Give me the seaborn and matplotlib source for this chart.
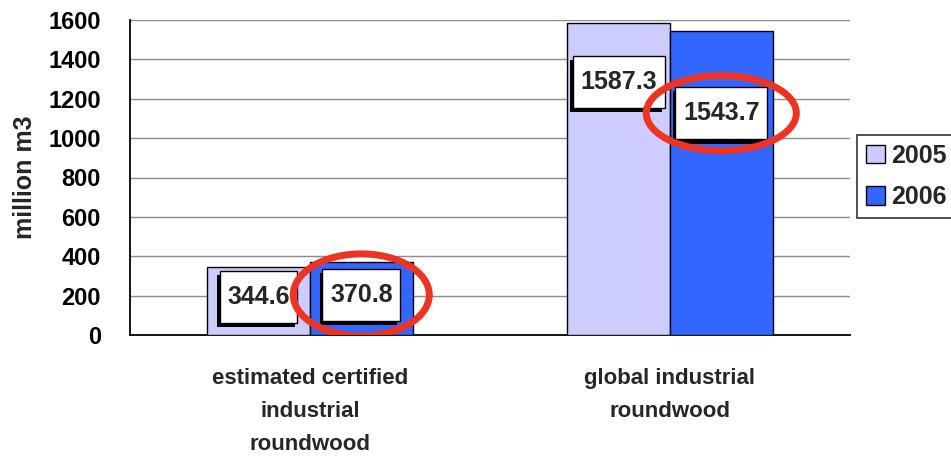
import matplotlib
matplotlib.use("Agg")
import matplotlib.pyplot as plt
import matplotlib.patheffects as pe
from matplotlib.patches import Ellipse
import seaborn as sns
import pandas as pd

categories = ["estimated certified\nindustrial\nroundwood", "global industrial\nroundwood"]
years = ["2005", "2006"]
values_2005 = [344.6, 1587.3]
values_2006 = [370.8, 1543.7]
label_texts_2005 = ["344.6", "1587.3"]
label_texts_2006 = ["370.8", "1543.7"]
y_ticks = [0, 200, 400, 600, 800, 1000, 1200, 1400, 1600]

df = pd.DataFrame({
    "category": categories * 2,
    "year": [years[0]] * 2 + [years[1]] * 2,
    "value": values_2005 + values_2006,
})

sns.set_style("white")
plt.rcParams["font.family"] = ["Liberation Sans", "DejaVu Sans"]
plt.rcParams["font.weight"] = "bold"

fig = plt.figure(figsize=(9.51, 4.57), dpi=100)
ax = fig.add_axes([130 / 951, 1 - 335 / 457, 720 / 951, 315 / 457])

palette = {"2005": "#ccccff", "2006": "#3366ff"}
bar_w = 0.57
sns.barplot(data=df, x="category", y="value", hue="year", palette=palette,
            width=bar_w, edgecolor="black", linewidth=1, saturation=1, ax=ax,
            zorder=3)

ax.set_ylim(0, 1600)
ax.set_xlim(-0.5, 1.5)
ax.set_yticks(y_ticks)
ax.yaxis.grid(True, color="#8c8c8c", linewidth=1, zorder=0)
ax.set_axisbelow(True)
for s in ["top", "right"]:
    ax.spines[s].set_visible(False)
for s in ["left", "bottom"]:
    ax.spines[s].set_color("black")
    ax.spines[s].set_linewidth(1.3)

ax.tick_params(axis="y", direction="inout", length=12, width=1.2, pad=15,
               labelsize=17, colors="black")
ax.set_xticks([0, 1])
ax.set_xticklabels(categories, fontsize=16, fontweight="bold", linespacing=1.75)
ax.tick_params(axis="x", length=0, pad=24)
ax.set_xticks([-0.5, 0.5, 1.5], minor=True)
ax.tick_params(axis="x", which="minor", direction="out", length=8, width=1.2)
ax.set_xlabel("")
ax.set_ylabel("million m3", fontsize=18, fontweight="bold", labelpad=8)

# data labels in white boxes with shadow
label_frac_2005 = [0.56, 0.81]
label_frac_2006 = [0.55, 0.73]
off = bar_w / 4
for i in range(len(categories)):
    for dx, val, txt, frac, circle in [
        (-off, values_2005[i], label_texts_2005[i], label_frac_2005[i], False),
        (off, values_2006[i], label_texts_2006[i], label_frac_2006[i], True),
    ]:
        t = ax.text(i + dx, val * frac, txt, ha="center", va="center",
                    fontsize=18, fontweight="bold", zorder=5,
                    bbox=dict(boxstyle="square,pad=0.3", facecolor="white",
                              edgecolor="black", linewidth=1,
                              mutation_aspect=1.9))
        t.get_bbox_patch().set_path_effects([
            pe.SimplePatchShadow(offset=(-2, -3), shadow_rgbFace="black", alpha=1),
            pe.Normal()])
        if circle:
            w = (150 if i == 1 else 136) / 360
            h = (75 if i == 1 else 82) / 315 * 1600
            ax.add_patch(Ellipse((i + dx, val * frac), w, h, fill=False,
                                 edgecolor="#ee3322", linewidth=5, zorder=6))

handles, labels = ax.get_legend_handles_labels()
leg = ax.legend(handles, labels, loc="upper left",
                bbox_to_anchor=(857 / 951, 1 - 135 / 457),
                bbox_transform=fig.transFigure, frameon=True, fancybox=False,
                fontsize=18, handlelength=0.75, handleheight=0.75,
                handletextpad=0.25, borderpad=0.35, labelspacing=0.7,
                borderaxespad=0)
leg.get_frame().set_edgecolor("black")
leg.get_frame().set_linewidth(1.2)
for txt in leg.get_texts():
    txt.set_fontweight("bold")

fig.savefig("out.png", dpi=100)
